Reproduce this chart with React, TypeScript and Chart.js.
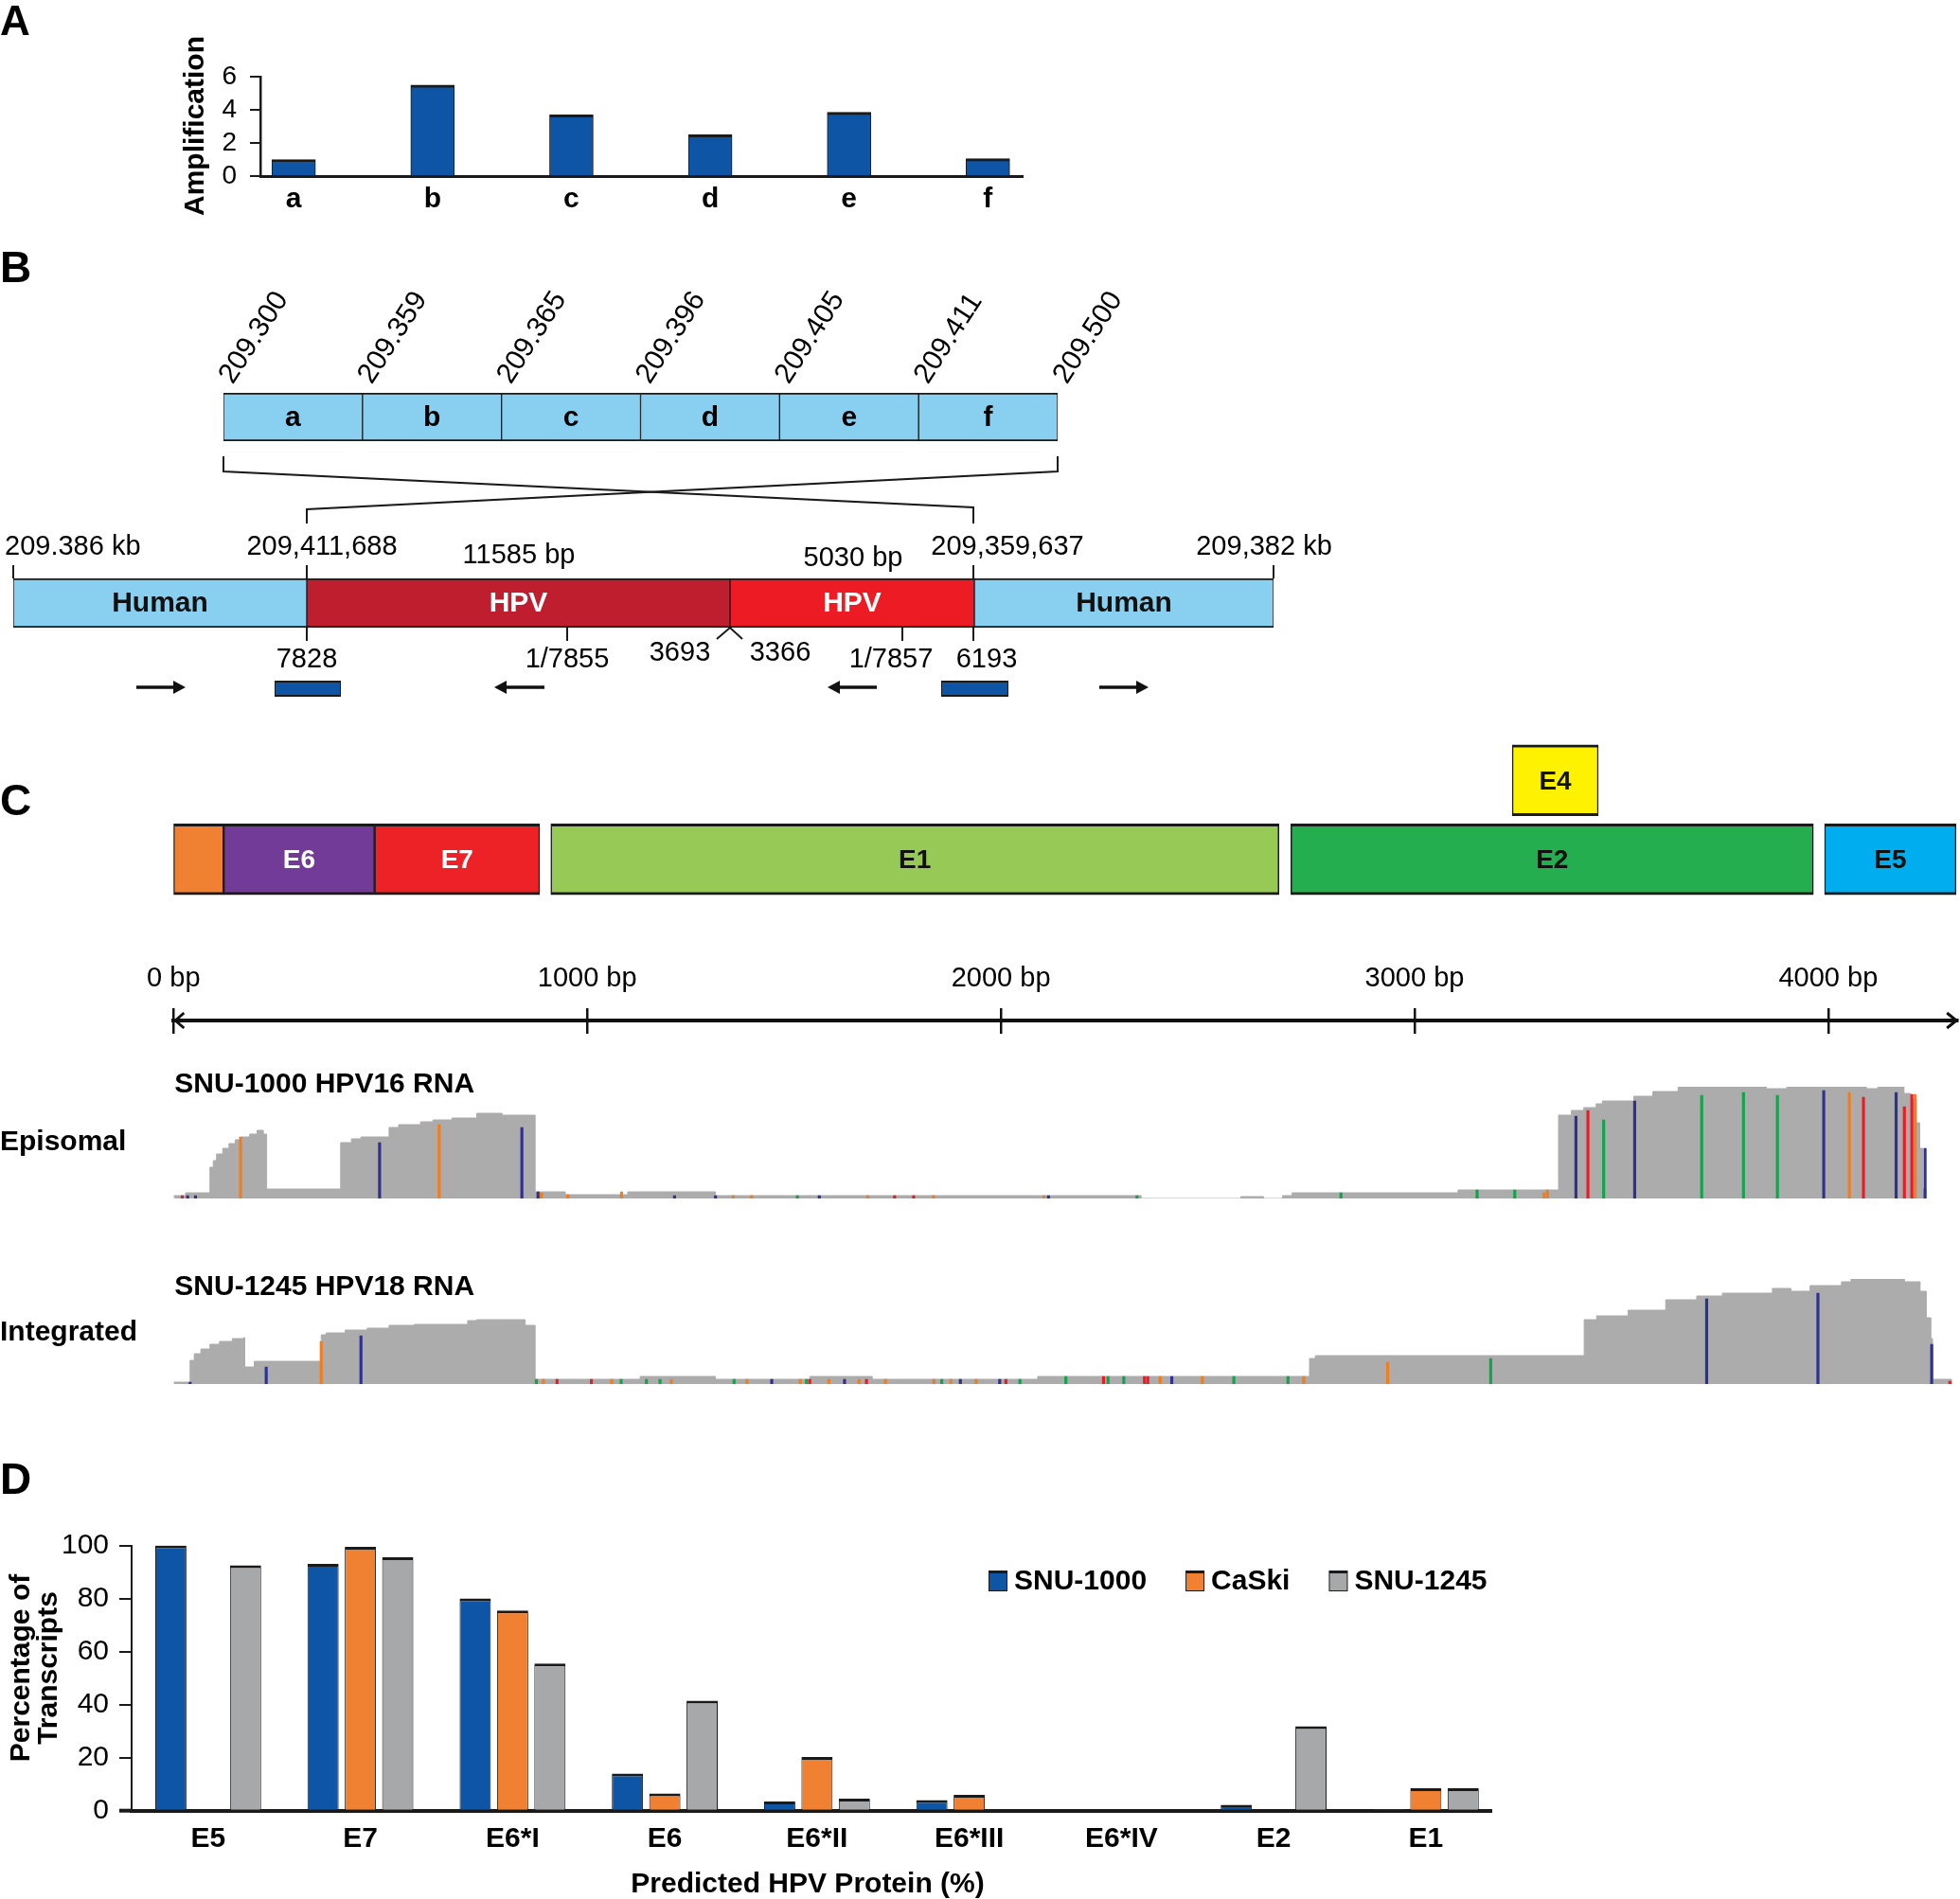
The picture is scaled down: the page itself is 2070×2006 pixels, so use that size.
import React, { useEffect, useRef } from 'react';
import { Chart, registerables } from 'chart.js';

Chart.register(...registerables);

const FONT = '"Liberation Sans", Arial, Helvetica, sans-serif';
Chart.defaults.font.family = FONT;
Chart.defaults.color = '#000';

// ---------------- DATA ----------------
// Panel A
const ampCategories = ['a', 'b', 'c', 'd', 'e', 'f'];
const ampValues = [1.0, 5.5, 3.7, 2.5, 3.85, 1.05];
const ampTicks = [0, 2, 4, 6];

// Panel B
const regionNames = ['a', 'b', 'c', 'd', 'e', 'f'];
const regionBoundaries = ['209.300', '209.359', '209.365', '209.396', '209.405', '209.411', '209.500'];
const genomeSegmentNames = ['Human', 'HPV', 'HPV', 'Human'];
const genomeTopLabels = ['209.386 kb', '209,411,688', '11585 bp', '5030 bp', '209,359,637', '209,382 kb'];
const genomeBottomLabels = ['7828', '1/7855', '3693', '3366', '1/7857', '6193'];

// Panel C
const geneNames = ['', 'E6', 'E7', 'E1', 'E2', 'E5', 'E4'];
const geneStarts = [0, 121, 486, 912, 2701, 3991, 3236];
const geneEnds = [121, 486, 885, 2672, 3964, 4309, 3444];
const geneRows = [0, 0, 0, 0, 0, 0, 1];
const bpTicks = [0, 1000, 2000, 3000, 4000];

const episomalPos = [0, 29, 88, 96, 104, 119, 134, 149, 164, 184, 202, 217, 225, 404, 430, 453, 521, 544, 597, 627, 673, 733, 794, 874, 947, 1098, 1310, 2339, 2580, 2635, 2681, 2704, 3105, 3348, 3379, 3409, 3439, 3454, 3530, 3576, 3637, 3850, 3900, 4092, 4120, 4183, 4198, 4213, 4221, 4228, 4236];
const episomalDepth = [3, 6, 33, 40, 47, 53, 58, 62, 65, 68, 72, 68, 10, 59, 63, 65, 75, 78, 81, 83, 85, 90, 88, 7, 4, 7, 3, 0, 2, 0, 3, 6, 9, 88, 93, 96, 100, 103, 108, 113, 118, 116, 118, 116, 118, 111, 105, 80, 53, 10, 0];
const episomalMmPos = [162, 498, 642, 842, 3390, 3419, 3457, 3532, 3694, 3795, 3877, 3989, 4051, 4085, 4164, 4184, 4202, 4210, 4234, 21, 34, 53, 881, 889, 953, 1083, 1211, 1310, 1353, 1397, 1508, 1561, 1678, 1743, 1789, 1837, 2104, 2115, 2329, 2822, 3151, 3242, 3313, 3321];
const episomalMmDepth = [65, 59, 78, 75, 87, 93, 83, 103, 109, 112, 109, 114, 112, 107, 112, 97, 110, 110, 53, 3, 3, 3, 7, 6, 4, 7, 3, 3, 3, 3, 3, 3, 3, 3, 3, 3, 3, 3, 3, 6, 9, 9, 6, 9];
const episomalMmBase = ['G', 'C', 'G', 'C', 'C', 'T', 'A', 'C', 'A', 'A', 'A', 'C', 'G', 'T', 'C', 'T', 'T', 'G', 'C', 'T', 'C', 'C', 'C', 'G', 'G', 'G', 'C', 'C', 'G', 'G', 'A', 'C', 'G', 'T', 'T', 'G', 'G', 'C', 'A', 'A', 'A', 'A', 'G', 'G'];

const integratedPos = [0, 40, 50, 66, 88, 111, 142, 169, 172, 195, 357, 369, 415, 468, 521, 582, 642, 711, 733, 824, 850, 874, 1128, 1310, 1538, 1689, 2089, 2746, 2760, 3410, 3440, 3516, 3607, 3682, 3744, 3865, 3910, 3956, 4032, 4055, 4184, 4222, 4237, 4248, 4252, 4298];
const integratedDepth = [2, 25, 32, 37, 42, 45, 48, 49, 18, 24, 52, 54, 57, 59, 62, 63, 63, 67, 68, 68, 62, 5, 8, 5, 8, 5, 8, 27, 30, 68, 72, 78, 89, 93, 96, 101, 98, 104, 108, 111, 108, 98, 70, 48, 5, 0];
const integratedMmPos = [40, 224, 357, 453, 877, 894, 927, 1010, 1059, 1082, 1143, 1176, 1203, 1355, 1386, 1446, 1515, 1530, 1538, 1584, 1622, 1657, 1675, 1721, 1838, 1857, 1879, 1902, 1940, 1997, 2012, 2046, 2157, 2248, 2259, 2297, 2347, 2355, 2385, 2413, 2487, 2563, 2694, 2732, 2935, 3184, 3706, 3975, 4250, 4294];
const integratedMmDepth = [2, 18, 45, 51, 5, 5, 5, 5, 5, 5, 5, 5, 5, 5, 5, 5, 5, 5, 5, 5, 5, 5, 5, 5, 5, 5, 5, 5, 5, 5, 5, 5, 8, 8, 8, 8, 8, 8, 8, 8, 8, 8, 8, 8, 23, 27, 90, 96, 42, 3];
const integratedMmBase = ['C', 'C', 'G', 'C', 'A', 'G', 'T', 'T', 'G', 'A', 'A', 'A', 'G', 'A', 'G', 'C', 'G', 'A', 'T', 'G', 'C', 'G', 'T', 'G', 'G', 'A', 'G', 'C', 'G', 'C', 'T', 'A', 'A', 'T', 'A', 'A', 'T', 'T', 'G', 'C', 'G', 'A', 'A', 'G', 'G', 'A', 'C', 'C', 'C', 'T'];

// Panel D
const proteins = ['E5', 'E7', 'E6*I', 'E6', 'E6*II', 'E6*III', 'E6*IV', 'E2', 'E1'];
const seriesNames = ['SNU-1000', 'CaSki', 'SNU-1245'];
const snu1000 = [100, 93, 80, 14, 3.5, 4, 0, 2.2, 0.6];
const caski = [0, 99.5, 75.5, 6.5, 20.2, 6, 0, 0, 8.5];
const snu1245 = [92.5, 95.5, 55.5, 41.5, 4.5, 0, 0, 31.8, 8.5];
const pctTicks = [0, 20, 40, 60, 80, 100];

// ---------------- STYLE ----------------
const BLUE = '#0E56A5';
const ORANGE = '#F08133';
const GRAY = '#A7A8AA';
const EDGE = '#1a1a1a';
const LIGHTBLUE = '#89CFF0';
const COV_GRAY = '#ABACAB';
const BASE_COLORS: Record<string, string> = { A: '#10A54A', C: '#2E3192', G: '#F07D1E', T: '#ED1C24' };
const GENE_COLORS = ['#F08133', '#713B97', '#EC2227', '#97C957', '#25AE4F', '#00AEEF', '#FFF200'];
const GENE_TEXT = ['#000', '#fff', '#fff', '#111', '#111', '#111', '#111'];

const bold = (s: number) => `bold ${s}px ${FONT}`;
const reg = (s: number) => `${s}px ${FONT}`;

type TextItem = { t: string; x: number; y: number; font: string; color?: string; align?: CanvasTextAlign; base?: CanvasTextBaseline; rot?: number };

function drawText(ctx: CanvasRenderingContext2D, it: TextItem) {
  ctx.save();
  ctx.font = it.font;
  ctx.fillStyle = it.color || '#000';
  ctx.textAlign = it.align || 'left';
  ctx.textBaseline = it.base || 'middle';
  ctx.translate(it.x, it.y);
  if (it.rot) ctx.rotate(it.rot);
  ctx.fillText(it.t, 0, 0);
  ctx.restore();
}

function overlay(fn: (chart: any, ctx: CanvasRenderingContext2D) => void) {
  return {
    id: 'overlay',
    afterDraw(chart: any) {
      const ctx = chart.ctx as CanvasRenderingContext2D;
      ctx.save();
      fn(chart, ctx);
      ctx.restore();
    },
  };
}

function line(ctx: CanvasRenderingContext2D, pts: number[][], w = 2, color = EDGE) {
  ctx.beginPath();
  ctx.strokeStyle = color;
  ctx.lineWidth = w;
  ctx.lineJoin = 'miter';
  pts.forEach((p, i) => (i ? ctx.lineTo(p[0], p[1]) : ctx.moveTo(p[0], p[1])));
  ctx.stroke();
}

function arrow(ctx: CanvasRenderingContext2D, x1: number, x2: number, y: number) {
  const dir = Math.sign(x2 - x1);
  const hl = 13;
  line(ctx, [[x1, y], [x2 - dir * hl, y]], 3.5, '#111');
  ctx.beginPath();
  ctx.fillStyle = '#111';
  ctx.moveTo(x2, y);
  ctx.lineTo(x2 - dir * hl, y - 7);
  ctx.lineTo(x2 - dir * hl, y + 7);
  ctx.closePath();
  ctx.fill();
}

const fixedTicks = (vals: number[]) => (s: any) => { s.ticks = vals.map((v) => ({ value: v })); };

const noPlugins = { legend: { display: false }, tooltip: { enabled: false } };

// ---------------- CHART BUILDERS ----------------
function buildA() {
  return {
    type: 'bar',
    data: {
      datasets: [{
        data: ampValues.map((v, i) => ({ x: i, y: v })),
        backgroundColor: BLUE,
        borderColor: EDGE,
        borderWidth: { top: 3, right: 1, bottom: 0, left: 1 },
        borderSkipped: false,
        barThickness: 46,
      }],
    },
    options: {
      layout: { padding: { left: 175, right: 20, top: 81, bottom: 0 } },
      scales: {
        x: {
          type: 'linear', min: -0.24, max: 5.25, offset: false,
          afterBuildTicks: fixedTicks(ampCategories.map((c, i) => i)),
          afterFit: (s: any) => { s.height = 54; },
          ticks: { autoSkip: false, maxRotation: 0, padding: -1, font: { size: 30, weight: 'bold' }, color: '#000', callback: (v: number) => ampCategories[Math.round(v)] ?? '' },
          grid: { display: false },
          border: { color: EDGE, width: 3 },
        },
        y: {
          min: 0, max: 6,
          afterBuildTicks: fixedTicks(ampTicks),
          afterFit: (s: any) => { s.width = 100; },
          ticks: { autoSkip: false, padding: 14, font: { size: 28 }, color: '#000' },
          grid: { drawOnChartArea: false, tickLength: 11, color: EDGE, lineWidth: 2 },
          border: { color: EDGE, width: 2.5 },
        },
      },
      plugins: noPlugins,
    },
    plugins: [overlay((chart, ctx) => {
      drawText(ctx, { t: 'A', x: 0, y: 37, font: bold(44), base: 'alphabetic' });
      drawText(ctx, { t: 'Amplification', x: 207, y: 133, font: bold(30), align: 'center', rot: -Math.PI / 2 });
    })],
  };
}

// B1 canvas: left 0, top 250
function buildB1() {
  return {
    type: 'bar',
    data: {
      labels: ['regions'],
      datasets: regionNames.map((n) => ({
        label: n, data: [1], backgroundColor: LIGHTBLUE, borderColor: EDGE,
        borderWidth: { top: 2, bottom: 2, left: 1, right: 1 }, borderSkipped: false,
        barPercentage: 1, categoryPercentage: 1,
      })),
    },
    options: {
      indexAxis: 'y',
      layout: { padding: { left: 236, right: 133, top: 0, bottom: 9 } },
      scales: {
        x: {
          type: 'linear', position: 'top', stacked: true, min: 0, max: 6,
          afterBuildTicks: fixedTicks(regionBoundaries.map((b, i) => i)),
          afterFit: (s: any) => { s.height = 165; },
          ticks: { autoSkip: false, minRotation: 57, maxRotation: 57, padding: -5, labelOffset: 33, font: { size: 30 }, color: '#000', callback: (v: number) => regionBoundaries[Math.round(v)] ?? '' },
          grid: { display: false },
          border: { display: false },
        },
        y: { stacked: true, display: false },
      },
      plugins: noPlugins,
    },
    plugins: [overlay((chart, ctx) => {
      drawText(ctx, { t: 'B', x: 0, y: 48, font: bold(46), base: 'alphabetic' });
      regionNames.forEach((n, i) => {
        const el = chart.getDatasetMeta(i).data[0];
        const c = el.getCenterPoint();
        drawText(ctx, { t: n, x: c.x, y: c.y + 1, font: bold(30), align: 'center' });
      });
    })],
  };
}

// B2 canvas: left 0, top 470. Schematic x units (0 = left end of the genomic bar)
const B2_TOP = 470;
const genomeSchematicWidths = [310, 447, 258, 316];
function buildB2() {
  const segColors = [LIGHTBLUE, '#BE1E2D', '#ED1C24', LIGHTBLUE];
  const py = (y: number) => y - B2_TOP;
  return {
    type: 'bar',
    data: {
      labels: ['genome'],
      datasets: genomeSegmentNames.map((n, i) => ({
        label: n, data: [genomeSchematicWidths[i]], backgroundColor: segColors[i], borderColor: EDGE,
        borderWidth: { top: 2, bottom: 2, left: 1, right: 1 }, borderSkipped: false,
        barPercentage: 1, categoryPercentage: 1,
      })),
    },
    options: {
      indexAxis: 'y',
      layout: { padding: { left: 14, right: 105, top: 141, bottom: 97 } },
      scales: {
        x: { type: 'linear', stacked: true, min: 0, max: 1331, display: false },
        y: { stacked: true, display: false },
      },
      plugins: noPlugins,
    },
    plugins: [overlay((chart, ctx) => {
      const xs = chart.scales.x;
      const X = (u: number) => xs.getPixelForValue(u);
      genomeSegmentNames.forEach((n, i) => {
        const c = chart.getDatasetMeta(i).data[0].getCenterPoint();
        drawText(ctx, { t: n, x: c.x, y: c.y + 1, font: bold(30), align: 'center', color: n === 'HPV' ? '#fff' : '#111' });
      });
      line(ctx, [[X(222), py(482)], [X(222), py(498)], [X(1014), py(536)], [X(1014), py(553)]]);
      line(ctx, [[X(1103), py(482)], [X(1103), py(498)], [X(310), py(538)], [X(310), py(553)]]);
      [0, 310, 1014, 1331].forEach((u) => line(ctx, [[X(u), py(597)], [X(u), py(611)]]));
      const topX = [-9, 326, 534, 887, 1050, 1321];
      const topY = [578, 578, 587, 590, 578, 578];
      genomeTopLabels.forEach((t, i) => drawText(ctx, { t, x: X(topX[i]), y: py(topY[i]), font: reg(29), align: i === 0 ? 'left' : 'center' }));
      [310, 585, 939, 1014].forEach((u) => line(ctx, [[X(u), py(663)], [X(u), py(677)]]));
      line(ctx, [[X(743), py(675)], [X(757), py(663)], [X(770), py(675)]]);
      const botX = [310, 585, 704, 810, 927, 1028];
      const botY = [697, 697, 690, 690, 697, 697];
      genomeBottomLabels.forEach((t, i) => drawText(ctx, { t, x: X(botX[i]), y: py(botY[i]), font: reg(29), align: 'center' }));
      arrow(ctx, X(130), X(182), py(726));
      arrow(ctx, X(561), X(508), py(726));
      arrow(ctx, X(912), X(860), py(726));
      arrow(ctx, X(1147), X(1199), py(726));
      [[276, 346], [980, 1051]].forEach(([a, b]) => {
        ctx.fillStyle = EDGE;
        ctx.fillRect(X(a), py(719), X(b) - X(a), 17);
        ctx.fillStyle = BLUE;
        ctx.fillRect(X(a) + 1, py(721), X(b) - X(a) - 2, 13);
      });
    })],
  };
}

const BP_MAX = 4312;
const C_PAD_L = 183.3;
const C_PAD_R = 2.8;

function buildC1() {
  return {
    type: 'bar',
    data: {
      datasets: [{
        data: geneNames.map((n, i) => ({ x: [geneStarts[i], geneEnds[i]], y: geneRows[i] })),
        backgroundColor: GENE_COLORS,
        borderColor: EDGE,
        borderWidth: { top: 3, bottom: 3, left: 1.5, right: 1.5 },
        borderSkipped: false,
        barThickness: 75,
      }],
    },
    options: {
      indexAxis: 'y',
      layout: { padding: { left: C_PAD_L, right: C_PAD_R, top: 10, bottom: 8 } },
      scales: {
        x: { type: 'linear', min: 0, max: BP_MAX, display: false },
        y: { type: 'linear', min: -0.47, max: 1.47, display: false, offset: false },
      },
      plugins: noPlugins,
    },
    plugins: [overlay((chart, ctx) => {
      drawText(ctx, { t: 'C', x: 0, y: 86, font: bold(46), base: 'alphabetic' });
      const meta = chart.getDatasetMeta(0);
      geneNames.forEach((n, i) => {
        if (!n) return;
        const c = meta.data[i].getCenterPoint();
        drawText(ctx, { t: n, x: c.x, y: c.y + 2, font: bold(28), align: 'center', color: GENE_TEXT[i] });
      });
    })],
  };
}

function buildC2() {
  return {
    type: 'scatter',
    data: { datasets: [{ data: [] }] },
    options: {
      layout: { padding: { left: C_PAD_L, right: C_PAD_R, top: 0, bottom: 18 } },
      scales: {
        x: {
          type: 'linear', position: 'top', min: 0, max: BP_MAX,
          afterBuildTicks: fixedTicks(bpTicks),
          afterFit: (s: any) => { s.height = 78; },
          ticks: { autoSkip: false, maxRotation: 0, padding: 14, font: { size: 29 }, color: '#000', callback: (v: number) => `${v} bp` },
          grid: { drawOnChartArea: true, drawTicks: true, tickLength: 13, color: '#111', lineWidth: 2.5 },
          border: { display: true, width: 4, color: '#111' },
        },
        y: { display: false },
      },
      plugins: noPlugins,
    },
    plugins: [overlay((chart, ctx) => {
      const xs = chart.scales.x;
      const y = chart.chartArea.top;
      const x0 = xs.getPixelForValue(0);
      const x1 = chart.chartArea.right;
      line(ctx, [[x0 + 11, y - 8], [x0 + 2, y], [x0 + 11, y + 8]], 3, '#111');
      line(ctx, [[x1 - 11, y - 8], [x1 - 1, y], [x1 - 11, y + 8]], 3, '#111');
    })],
  };
}

function buildCoverage(pos: number[], depth: number[], mmPos: number[], mmDepth: number[], mmBase: string[], maxDepth: number, padTop: number, padBottom: number, title: string, titleY: number, side: string, sideY: number) {
  return {
    type: 'line',
    data: {
      datasets: [
        {
          type: 'bar',
          data: mmPos.map((p, i) => ({ x: p, y: mmDepth[i] })),
          backgroundColor: mmBase.map((b) => BASE_COLORS[b]),
          barThickness: 2.5,
          order: 0,
        },
        {
          type: 'line',
          data: pos.map((p, i) => ({ x: p, y: depth[i] })),
          stepped: true,
          fill: 'origin',
          backgroundColor: COV_GRAY,
          borderColor: COV_GRAY,
          borderWidth: 1,
          pointRadius: 0,
          order: 1,
        },
      ],
    },
    options: {
      layout: { padding: { left: C_PAD_L, right: C_PAD_R, top: padTop, bottom: padBottom } },
      scales: {
        x: { type: 'linear', min: 0, max: BP_MAX, display: false, offset: false },
        y: { type: 'linear', min: 0, max: maxDepth, display: false },
      },
      plugins: noPlugins,
    },
    plugins: [overlay((chart, ctx) => {
      drawText(ctx, { t: title, x: C_PAD_L + 1, y: titleY, font: bold(30) });
      drawText(ctx, { t: side, x: 0, y: sideY, font: bold(30) });
    })],
  };
}

function buildD() {
  const colors = [BLUE, ORANGE, GRAY];
  const series = [snu1000, caski, snu1245];
  return {
    type: 'bar',
    data: {
      datasets: series.map((s, k) => ({
        label: seriesNames[k],
        data: s.map((v, i) => ({ x: i, y: v })),
        backgroundColor: colors[k],
        borderColor: EDGE,
        borderWidth: { top: 3, right: 1, bottom: 0, left: 1 },
        borderSkipped: false,
        categoryPercentage: 0.736,
        barPercentage: 0.835,
      })),
    },
    options: {
      layout: { padding: { left: 0, right: 25, top: 92.5, bottom: 0 } },
      scales: {
        x: {
          type: 'linear', min: -0.503, max: 8.43, offset: false,
          afterBuildTicks: fixedTicks(proteins.map((p, i) => i)),
          afterFit: (s: any) => { s.height = 93.3; },
          ticks: { autoSkip: false, maxRotation: 0, padding: 4, font: { size: 30, weight: 'bold' }, color: '#000', callback: (v: number) => proteins[Math.round(v)] ?? '' },
          grid: { display: false },
          border: { color: EDGE, width: 4 },
        },
        y: {
          min: 0, max: 100,
          afterBuildTicks: fixedTicks(pctTicks),
          afterFit: (s: any) => { s.width = 139; },
          ticks: { autoSkip: false, padding: 11, font: { size: 30 }, color: '#000' },
          grid: { drawOnChartArea: false, tickLength: 13, color: EDGE, lineWidth: 2 },
          border: { color: EDGE, width: 2 },
        },
      },
      plugins: noPlugins,
    },
    plugins: [overlay((chart, ctx) => {
      drawText(ctx, { t: 'D', x: 0, y: 38, font: bold(46), base: 'alphabetic' });
      line(ctx, [[126, chart.chartArea.bottom], [chart.chartArea.left, chart.chartArea.bottom]], 4, EDGE);
      drawText(ctx, { t: 'Percentage of', x: 23, y: 222, font: bold(30), align: 'center', rot: -Math.PI / 2 });
      drawText(ctx, { t: 'Transcripts', x: 52, y: 222, font: bold(30), align: 'center', rot: -Math.PI / 2 });
      drawText(ctx, { t: 'Predicted HPV Protein (%)', x: 853, y: 451, font: bold(30), align: 'center' });
      let x = 1044;
      const yc = 130;
      ctx.font = bold(30);
      seriesNames.forEach((n, k) => {
        ctx.fillStyle = EDGE;
        ctx.fillRect(x, yc - 11, 20, 22);
        ctx.fillStyle = colors[k];
        ctx.fillRect(x + 1, yc - 8, 18, 18);
        drawText(ctx, { t: n, x: x + 27, y: yc + 1, font: bold(30) });
        ctx.font = bold(30);
        x = x + 27 + ctx.measureText(n).width + 41;
      });
    })],
  };
}

// ---------------- COMPONENTS ----------------
function ChartCanvas({ left, top, width, height, build }: { left: number; top: number; width: number; height: number; build: () => any }) {
  const ref = useRef<HTMLCanvasElement>(null);
  useEffect(() => {
    const cfg = build();
    cfg.options = { ...cfg.options, responsive: false, maintainAspectRatio: false, animation: false, devicePixelRatio: 1 };
    const chart = new Chart(ref.current as HTMLCanvasElement, cfg);
    return () => chart.destroy();
  }, []);
  return <canvas ref={ref} width={width} height={height} style={{ position: 'absolute', left, top, width, height }} />;
}

export default function App() {
  return (
    <div style={{ position: 'absolute', left: 0, top: 0, width: 2070, height: 2006, background: '#fff', overflow: 'hidden' }}>
      <ChartCanvas left={0} top={0} width={1100} height={240} build={buildA} />
      <ChartCanvas left={0} top={250} width={1250} height={225} build={buildB1} />
      <ChartCanvas left={0} top={470} width={1450} height={290} build={buildB2} />
      <ChartCanvas left={0} top={775} width={2070} height={180} build={buildC1} />
      <ChartCanvas left={0} top={1000} width={2070} height={110} build={buildC2} />
      <ChartCanvas left={0} top={1120} width={2070} height={160} build={() => buildCoverage(episomalPos, episomalDepth, episomalMmPos, episomalMmDepth, episomalMmBase, 118, 28, 14, 'SNU-1000 HPV16 RNA', 26, 'Episomal', 87)} />
      <ChartCanvas left={0} top={1330} width={2070} height={145} build={() => buildCoverage(integratedPos, integratedDepth, integratedMmPos, integratedMmDepth, integratedMmBase, 111, 21, 13, 'SNU-1245 HPV18 RNA', 30, 'Integrated', 78)} />
      <ChartCanvas left={0} top={1540} width={1600} height={466} build={buildD} />
    </div>
  );
}
